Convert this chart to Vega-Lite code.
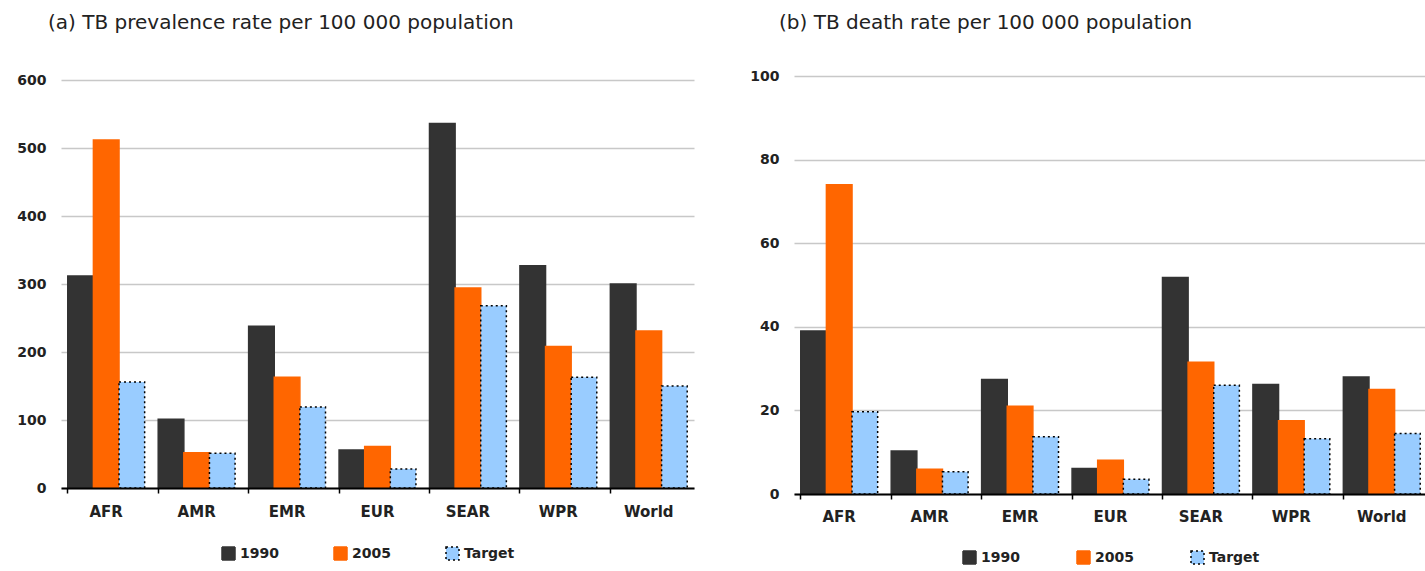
{
  "$schema": "https://vega.github.io/schema/vega-lite/v6.json",
  "padding": {"left": 16, "top": 13, "right": 0, "bottom": 0},
  "background": "white",
  "spacing": 55,
  "config": {
    "view": {"stroke": null},
    "font": "DejaVu Sans",
    "axis": {"labelFont": "DejaVu Sans", "labelFontWeight": "bold", "labelFontSize": 14, "labelColor": "#222222"},
    "legend": {"labelFont": "DejaVu Sans", "labelFontWeight": "bold", "labelFontSize": 14, "labelColor": "#222222"},
    "title": {"font": "DejaVu Sans", "fontSize": 20, "fontWeight": "normal", "color": "#222222", "anchor": "start", "frame": "group"}
  },
  "datasets": {
    "prev": [
      {"region": "AFR", "series": "1990", "value": 312},
      {"region": "AFR", "series": "2005", "value": 512},
      {"region": "AFR", "series": "Target", "value": 156},
      {"region": "AMR", "series": "1990", "value": 101},
      {"region": "AMR", "series": "2005", "value": 52},
      {"region": "AMR", "series": "Target", "value": 51},
      {"region": "EMR", "series": "1990", "value": 238},
      {"region": "EMR", "series": "2005", "value": 163},
      {"region": "EMR", "series": "Target", "value": 119},
      {"region": "EUR", "series": "1990", "value": 56},
      {"region": "EUR", "series": "2005", "value": 61},
      {"region": "EUR", "series": "Target", "value": 28},
      {"region": "SEAR", "series": "1990", "value": 536},
      {"region": "SEAR", "series": "2005", "value": 294},
      {"region": "SEAR", "series": "Target", "value": 268},
      {"region": "WPR", "series": "1990", "value": 327},
      {"region": "WPR", "series": "2005", "value": 208},
      {"region": "WPR", "series": "Target", "value": 163},
      {"region": "World", "series": "1990", "value": 300},
      {"region": "World", "series": "2005", "value": 231},
      {"region": "World", "series": "Target", "value": 150}
    ],
    "death": [
      {"region": "AFR", "series": "1990", "value": 39},
      {"region": "AFR", "series": "2005", "value": 74},
      {"region": "AFR", "series": "Target", "value": 19.7},
      {"region": "AMR", "series": "1990", "value": 10.3},
      {"region": "AMR", "series": "2005", "value": 5.9},
      {"region": "AMR", "series": "Target", "value": 5.3},
      {"region": "EMR", "series": "1990", "value": 27.4},
      {"region": "EMR", "series": "2005", "value": 21},
      {"region": "EMR", "series": "Target", "value": 13.7},
      {"region": "EUR", "series": "1990", "value": 6.1},
      {"region": "EUR", "series": "2005", "value": 8.1},
      {"region": "EUR", "series": "Target", "value": 3.5},
      {"region": "SEAR", "series": "1990", "value": 51.8},
      {"region": "SEAR", "series": "2005", "value": 31.5},
      {"region": "SEAR", "series": "Target", "value": 26},
      {"region": "WPR", "series": "1990", "value": 26.2},
      {"region": "WPR", "series": "2005", "value": 17.5},
      {"region": "WPR", "series": "Target", "value": 13.2},
      {"region": "World", "series": "1990", "value": 28},
      {"region": "World", "series": "2005", "value": 25},
      {"region": "World", "series": "Target", "value": 14.5}
    ]
  },
  "resolve": {
    "scale": {"fill": "independent", "stroke": "independent", "strokeDash": "independent"},
    "legend": {"fill": "independent", "stroke": "independent", "strokeDash": "independent"}
  },
  "hconcat": [
    {
      "width": 633,
      "height": 412,
      "title": {"text": "(a) TB prevalence rate per 100 000 population", "offset": 40, "dx": -13},
      "data": {"name": "prev"},
      "mark": {"type": "bar", "strokeWidth": 1.5},
      "encoding": {
        "x": {"field": "region", "type": "nominal", "sort": ["AFR", "AMR", "EMR", "EUR", "SEAR", "WPR", "World"],
              "scale": {"paddingInner": 0.15, "paddingOuter": 0.075},
              "axis": {"title": null, "labelAngle": 0, "bandPosition": 0, "tickSize": 5, "tickColor": "#000000", "tickWidth": 1.5,
                       "domainColor": "#000000", "domainWidth": 2, "labelPadding": 11, "labelFontSize": 15, "grid": false, "zindex": 1}},
        "xOffset": {"field": "series", "type": "nominal", "sort": ["1990", "2005", "Target"], "scale": {"paddingInner": 0, "paddingOuter": 0}},
        "y": {"field": "value", "type": "quantitative", "scale": {"domain": [0, 606], "nice": false},
              "axis": {"title": null, "values": [0, 100, 200, 300, 400, 500, 600], "domain": false, "ticks": false, "labelPadding": 15,
                       "gridColor": "#c8c8c8", "gridWidth": 1.5}},
        "fill": {"field": "series", "type": "nominal", "scale": {"domain": ["1990", "2005", "Target"], "range": ["#333333", "#FF6600", "#99CCFF"]},
                 "legend": {"title": null, "orient": "none", "legendX": 160, "legendY": 470, "direction": "horizontal", "symbolType": "square", "symbolSize": 169,
                            "symbolStrokeWidth": 1.5, "gridAlign": "all", "columnPadding": 40}},
        "stroke": {"field": "series", "type": "nominal", "scale": {"domain": ["1990", "2005", "Target"], "range": ["#333333", "#FF6600", "#000000"]},
                   "legend": {"title": null, "orient": "none", "legendX": 160, "legendY": 470, "direction": "horizontal", "symbolType": "square", "symbolSize": 169,
                              "symbolStrokeWidth": 1.5, "gridAlign": "all", "columnPadding": 40}},
        "strokeDash": {"field": "series", "type": "nominal", "scale": {"domain": ["1990", "2005", "Target"], "range": [[1, 0], [1, 0], [2, 3]]},
                       "legend": {"title": null, "orient": "none", "legendX": 160, "legendY": 470, "direction": "horizontal", "symbolType": "square", "symbolSize": 169,
                                  "symbolStrokeWidth": 1.5, "gridAlign": "all", "columnPadding": 40}}
      }
    },
    {
      "width": 633,
      "height": 418,
      "title": {"text": "(b) TB death rate per 100 000 population", "offset": 36, "dx": -15},
      "data": {"name": "death"},
      "mark": {"type": "bar", "strokeWidth": 1.5},
      "encoding": {
        "x": {"field": "region", "type": "nominal", "sort": ["AFR", "AMR", "EMR", "EUR", "SEAR", "WPR", "World"],
              "scale": {"paddingInner": 0.15, "paddingOuter": 0.075},
              "axis": {"title": null, "labelAngle": 0, "bandPosition": 0, "tickSize": 5, "tickColor": "#000000", "tickWidth": 1.5,
                       "domainColor": "#000000", "domainWidth": 2, "labelPadding": 10, "labelFontSize": 15, "grid": false, "zindex": 1}},
        "xOffset": {"field": "series", "type": "nominal", "sort": ["1990", "2005", "Target"], "scale": {"paddingInner": 0, "paddingOuter": 0}},
        "y": {"field": "value", "type": "quantitative", "scale": {"domain": [0, 100], "nice": false},
              "axis": {"title": null, "values": [0, 20, 40, 60, 80, 100], "domain": false, "ticks": false, "labelPadding": 15,
                       "gridColor": "#c8c8c8", "gridWidth": 1.5}},
        "fill": {"field": "series", "type": "nominal", "scale": {"domain": ["1990", "2005", "Target"], "range": ["#333333", "#FF6600", "#99CCFF"]},
                 "legend": {"title": null, "orient": "none", "legendX": 168, "legendY": 474, "direction": "horizontal", "symbolType": "square", "symbolSize": 169,
                            "symbolStrokeWidth": 1.5, "gridAlign": "all", "columnPadding": 42}},
        "stroke": {"field": "series", "type": "nominal", "scale": {"domain": ["1990", "2005", "Target"], "range": ["#333333", "#FF6600", "#000000"]},
                   "legend": {"title": null, "orient": "none", "legendX": 168, "legendY": 474, "direction": "horizontal", "symbolType": "square", "symbolSize": 169,
                              "symbolStrokeWidth": 1.5, "gridAlign": "all", "columnPadding": 42}},
        "strokeDash": {"field": "series", "type": "nominal", "scale": {"domain": ["1990", "2005", "Target"], "range": [[1, 0], [1, 0], [2, 3]]},
                       "legend": {"title": null, "orient": "none", "legendX": 168, "legendY": 474, "direction": "horizontal", "symbolType": "square", "symbolSize": 169,
                                  "symbolStrokeWidth": 1.5, "gridAlign": "all", "columnPadding": 42}}
      }
    }
  ]
}
